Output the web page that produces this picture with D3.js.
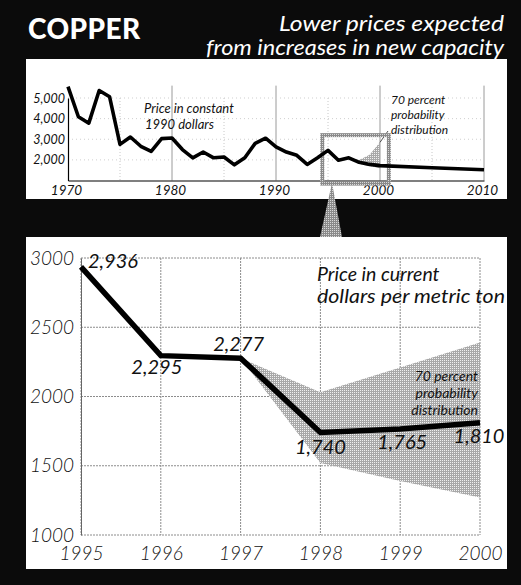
<!DOCTYPE html>
<html>
<head>
<meta charset="utf-8">
<script src="https://cdn.jsdelivr.net/npm/d3@7"></script>
<style>
  html, body { margin: 0; padding: 0; background: #0b0b0b; }
  svg { display: block; }
  text { font-family: Lato, "Open Sans", sans-serif; }
</style>
</head>
<body>
<svg id="chart" width="521" height="585"></svg>
<script>
// ---------- DATA ----------
// Top panel: price in constant 1990 dollars
const histYears = [1970,1971,1972,1973,1974,1975,1976,1977,1978,1979,1980,1981,1982,1983,1984,1985,1986,1987,1988,1989,1990,1991,1992,1993,1994,1995,1996,1997,1998,1999,2000,2005,2010];
const histPrices = [5550,4090,3780,5360,5060,2750,3110,2660,2410,3030,3060,2500,2100,2380,2100,2140,1760,2100,2800,3050,2630,2380,2220,1780,2100,2460,1980,2100,1880,1780,1720,1620,1520];
const histBandYears = [1997,1998,1999,2000];
const histBandLow = [2100,1800,1700,1600];
const histBandHigh = [2100,2000,2250,2850];
const topXTicks = [1970,1980,1990,2000,2010];
const topYTicks = [2000,3000,4000,5000];

// Bottom panel: price in current dollars per metric ton
const years = [1995,1996,1997,1998,1999,2000];
const prices = [2936,2295,2277,1740,1765,1810];
const bandYears = [1997,1998,1999,2000];
const bandLow = [2277,1520,1390,1270];
const bandHigh = [2277,2030,2210,2390];
const bottomXTicks = [1995,1996,1997,1998,1999,2000];
const bottomYTicks = [1000,1500,2000,2500,3000];

// ---------- SETUP ----------
const svg = d3.select("#chart");
const defs = svg.append("defs");
const pat = defs.append("pattern").attr("id","halftone").attr("width",2).attr("height",2).attr("patternUnits","userSpaceOnUse");
pat.append("rect").attr("width",2).attr("height",2).attr("fill","#a8a8a8");
pat.append("rect").attr("width",1).attr("height",1).attr("fill","#f0f0f0");
const pat2 = defs.append("pattern").attr("id","halftoneDark").attr("width",2).attr("height",2).attr("patternUnits","userSpaceOnUse");
pat2.append("rect").attr("width",2).attr("height",2).attr("fill","#8a8a8a");
pat2.append("rect").attr("width",1).attr("height",1).attr("fill","#d8d8d8");

svg.append("rect").attr("width",521).attr("height",585).attr("fill","#0b0b0b");

// Header
svg.append("text").attr("x",28).attr("y",39).attr("fill","#fff")
  .attr("font-size",28).attr("font-weight",900).attr("letter-spacing",0.4).text("COPPER");
svg.append("text").attr("x",504).attr("y",31).attr("fill","#fff").attr("text-anchor","end")
  .attr("font-size",21.5).attr("font-style","italic")
  .attr("textLength",225).attr("lengthAdjust","spacingAndGlyphs").text("Lower prices expected");
svg.append("text").attr("x",504).attr("y",55).attr("fill","#fff").attr("text-anchor","end")
  .attr("font-size",21.5).attr("font-style","italic")
  .attr("textLength",298).attr("lengthAdjust","spacingAndGlyphs").text("from increases in new capacity");

// ---------- TOP PANEL ----------
svg.append("rect").attr("x",26).attr("y",59).attr("width",481).attr("height",140).attr("fill","#fff");

const xT = d3.scaleLinear().domain([1970,2010]).range([68,484]);
const yT = d3.scaleLinear().domain([1000,5000]).range([180.5,98]);

const gT = svg.append("g");
// grid
gT.selectAll(".vg").data(topXTicks.slice(1)).join("line")
  .attr("x1",d=>xT(d)).attr("x2",d=>xT(d)).attr("y1",yT(5600)).attr("y2",yT(1000))
  .attr("stroke","#9a9a9a").attr("stroke-width",1);
gT.selectAll(".vg2").data([1975,1985,1995,2005]).join("line")
  .attr("x1",d=>xT(d)).attr("x2",d=>xT(d)).attr("y1",yT(5000)).attr("y2",yT(1000))
  .attr("stroke","#c8c8c8").attr("stroke-width",1).attr("stroke-dasharray","1,2");
gT.selectAll(".hg").data(topYTicks).join("line")
  .attr("x1",xT(1970)).attr("x2",xT(2010)).attr("y1",d=>yT(d)).attr("y2",d=>yT(d))
  .attr("stroke","#cfcfcf").attr("stroke-width",1).attr("stroke-dasharray","1,3");

// axes
const axTB = gT.append("g").attr("transform",`translate(0,${yT(1000)})`)
  .call(d3.axisBottom(xT).tickValues(topXTicks).tickSize(0).tickPadding(5).tickFormat(d3.format("d")));
axTB.select(".domain").attr("stroke","#000").attr("stroke-width",1.2);
axTB.selectAll("text").attr("font-size",13.5).attr("font-style","italic").attr("fill","#111")
  .attr("font-family","Lato, sans-serif").attr("dx",-2);
const axTL = gT.append("g").attr("transform",`translate(${xT(1970)},0)`)
  .call(d3.axisLeft(yT).tickValues(topYTicks).tickSize(0).tickPadding(3).tickFormat(d3.format(",")));
axTL.select(".domain").attr("stroke","#000").attr("stroke-width",1.2);
axTL.selectAll("text").attr("font-size",12.5).attr("font-style","italic").attr("fill","#111")
  .attr("font-family","Lato, sans-serif");

// small band
const histBand = histBandYears.map((y,i)=>({y, lo:histBandLow[i], hi:histBandHigh[i]}));
gT.append("path").datum(histBand)
  .attr("d", d3.area().x(d=>xT(d.y)).y0(d=>yT(d.lo)).y1(d=>yT(d.hi)))
  .attr("fill","url(#halftone)");
gT.append("line").attr("x1",xT(2000)).attr("y1",yT(2850)).attr("x2",388).attr("y2",131)
  .attr("stroke","#222").attr("stroke-width",0.8);

// highlight box
gT.append("rect").attr("x",xT(1994.45)).attr("y",yT(3200))
  .attr("width",xT(2000.85)-xT(1994.45)).attr("height",yT(850)-yT(3200))
  .attr("fill","none").attr("stroke","url(#halftoneDark)").attr("stroke-width",4);

// line
const hist = histYears.map((y,i)=>({y, v:histPrices[i]}));
gT.append("path").datum(hist)
  .attr("d", d3.line().x(d=>xT(d.y)).y(d=>yT(d.v)))
  .attr("fill","none").attr("stroke","#000").attr("stroke-width",3.6).attr("stroke-linejoin","round");

// annotations
gT.append("text").attr("x",144).attr("y",113).attr("font-size",13).attr("font-style","italic").attr("fill","#111").text("Price in constant");
gT.append("text").attr("x",145).attr("y",129).attr("font-size",13).attr("font-style","italic").attr("fill","#111").text("1990 dollars");
[["70 percent",104],["probability",119],["distribution",134]].forEach(([t,y])=>{
  gT.append("text").attr("x",391).attr("y",y).attr("font-size",12).attr("font-style","italic").attr("fill","#111").text(t);
});

// pointer triangle
svg.append("path").attr("d","M332,183 L342,237 L320,237 Z").attr("fill","url(#halftoneDark)");

// ---------- BOTTOM PANEL ----------
svg.append("rect").attr("x",26).attr("y",237).attr("width",481).attr("height",332).attr("fill","#fff");

const x = d3.scaleLinear().domain([1995,2000]).range([81,480]);
const y = d3.scaleLinear().domain([1000,3000]).range([535,258]);
const g = svg.append("g");

g.selectAll(".vg").data(bottomXTicks).join("line")
  .attr("x1",d=>x(d)).attr("x2",d=>x(d)).attr("y1",y(3000)).attr("y2",y(1000))
  .attr("stroke","#8c8c8c").attr("stroke-width",1).attr("stroke-dasharray","2,1");
g.selectAll(".hg").data(bottomYTicks).join("line")
  .attr("x1",x(1995)).attr("x2",x(2000)).attr("y1",d=>y(d)).attr("y2",d=>y(d))
  .attr("stroke","#8c8c8c").attr("stroke-width",1).attr("stroke-dasharray","2,1");

const axB = g.append("g").attr("transform",`translate(0,${y(1000)})`)
  .call(d3.axisBottom(x).tickValues(bottomXTicks).tickSize(0).tickPadding(12).tickFormat(d3.format("d")));
axB.select(".domain").remove();
axB.selectAll("text").attr("font-size",19).attr("font-style","italic").attr("font-weight",300)
  .attr("fill","#111").attr("font-family","Lato, sans-serif");
const axL = g.append("g").attr("transform",`translate(${x(1995)},0)`)
  .call(d3.axisLeft(y).tickValues(bottomYTicks).tickSize(0).tickPadding(7).tickFormat(d3.format("d")));
axL.select(".domain").attr("stroke","#666").attr("stroke-width",1);
axL.selectAll("text").attr("font-size",19).attr("font-style","italic").attr("font-weight",300)
  .attr("fill","#111").attr("font-family","Lato, sans-serif");

// band
const band = bandYears.map((yy,i)=>({y:yy, lo:bandLow[i], hi:bandHigh[i]}));
g.append("path").datum(band)
  .attr("d", d3.area().x(d=>x(d.y)).y0(d=>y(d.lo)).y1(d=>y(d.hi)))
  .attr("fill","url(#halftone)");

// band label
[["70 percent",381],["probability",398],["distribution",415]].forEach(([t,yy])=>{
  g.append("text").attr("x",478).attr("y",yy).attr("text-anchor","end")
    .attr("font-size",14).attr("font-style","italic").attr("fill","#111").text(t);
});

// line
const series = years.map((yy,i)=>({y:yy, v:prices[i]}));
g.append("path").datum(series)
  .attr("d", d3.line().x(d=>x(d.y)).y(d=>y(d.v)))
  .attr("fill","none").attr("stroke","#000").attr("stroke-width",5.5).attr("stroke-linejoin","miter");

// value labels
const fmt = d3.format(",");
const labelPos = [
  {anchor:"start", dx:7, dy:1},
  {anchor:"middle", dx:-4, dy:18},
  {anchor:"middle", dx:-2, dy:-7},
  {anchor:"middle", dx:0, dy:21},
  {anchor:"middle", dx:2, dy:20},
  {anchor:"middle", dx:-1, dy:20}
];
g.selectAll(".vl").data(series).join("text")
  .attr("x",(d,i)=>x(d.y)+labelPos[i].dx).attr("y",(d,i)=>y(d.v)+labelPos[i].dy)
  .attr("text-anchor",(d,i)=>labelPos[i].anchor)
  .attr("font-size",20).attr("font-style","italic").attr("fill","#111")
  .text(d=>fmt(d.v));

// title inside
g.append("text").attr("x",317).attr("y",281).attr("font-size",19.5).attr("font-style","italic").attr("fill","#111").text("Price in current");
g.append("text").attr("x",317).attr("y",303).attr("font-size",19.5).attr("font-style","italic").attr("fill","#111")
  .attr("textLength",188).attr("lengthAdjust","spacingAndGlyphs").text("dollars per metric ton");
</script>
</body>
</html>
